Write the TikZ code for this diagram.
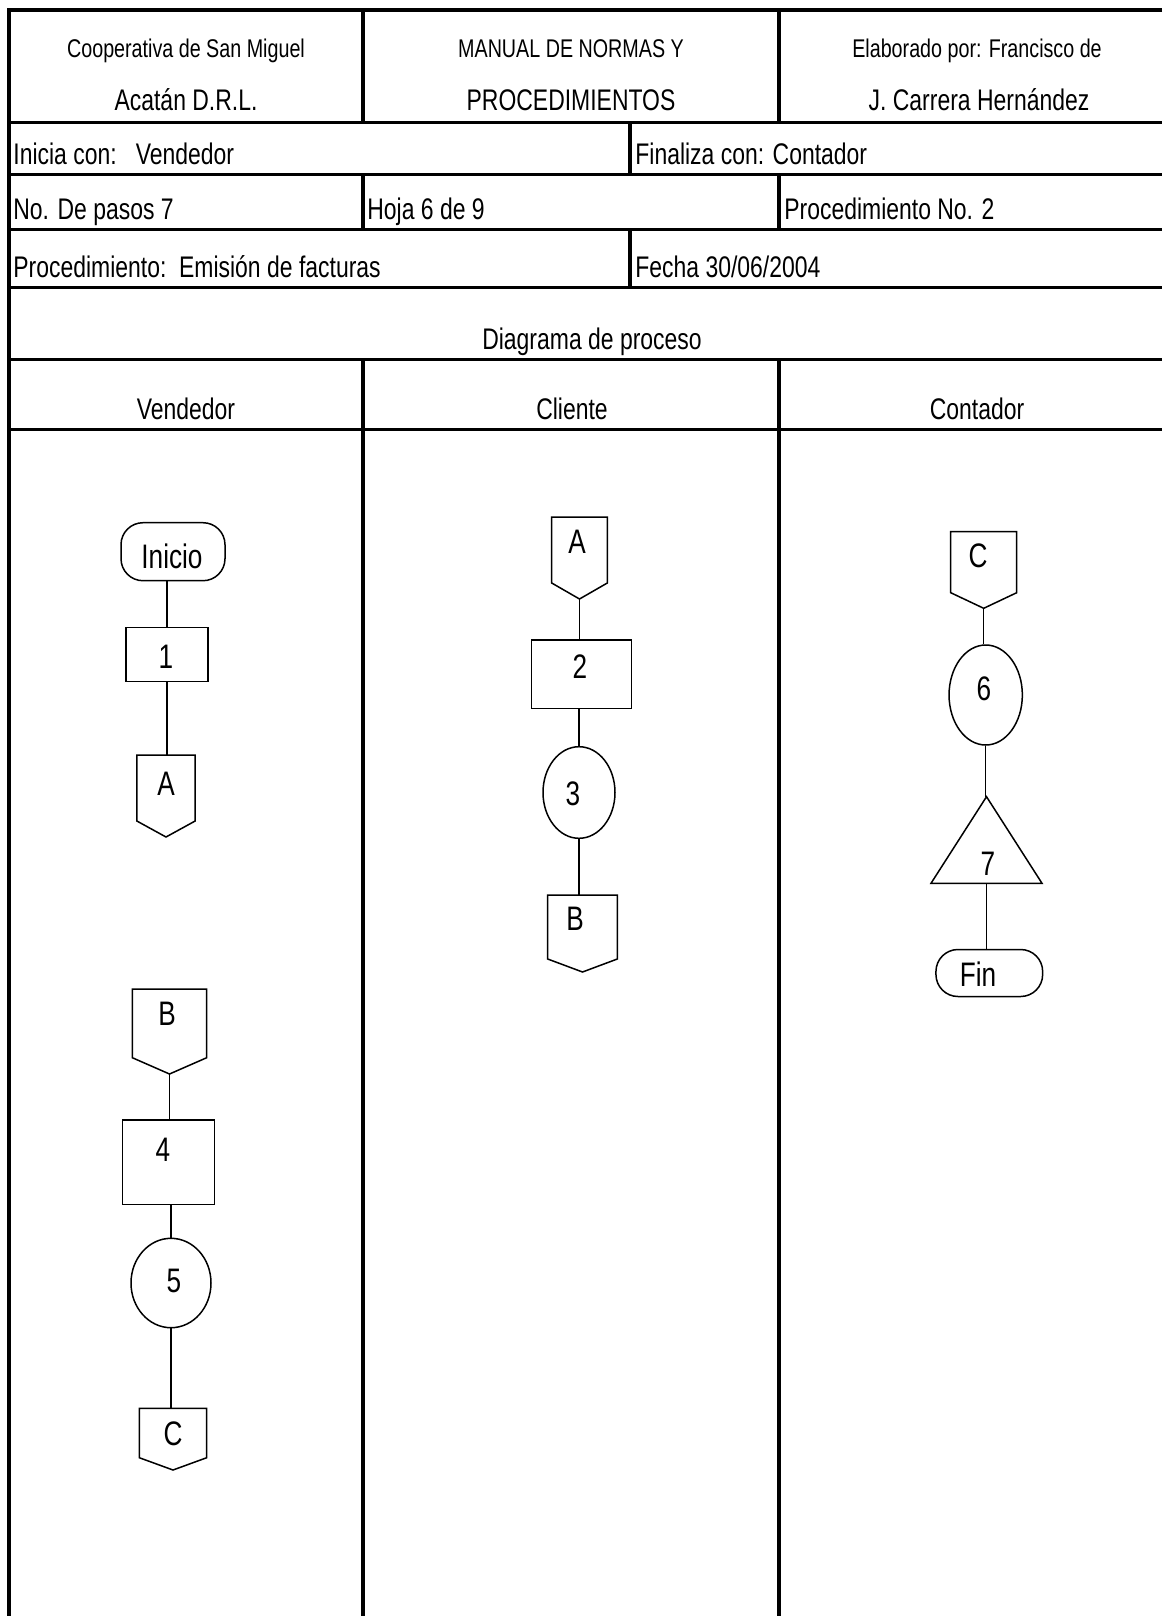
\documentclass[tikz,border=0pt]{standalone}
\usepackage{fontspec}
\setmainfont{Liberation Sans}[FakeStretch=0.77]
\usetikzlibrary{calc,shapes.geometric}

% one drawing unit = one pixel of the sheet
\def\pxu{0.5pt}

\tikzset{
  rule/.style={line width=1.8pt},
  flow/.style={line width=0.75pt},
  hsmall/.style={inner sep=0, anchor=base, font=\fontsize{12.8}{15}\selectfont},
  hbig/.style={inner sep=0, anchor=base, font=\fontsize{14.9}{18}\selectfont},
  cell/.style={inner sep=0, anchor=base west, font=\fontsize{14.9}{18}\selectfont},
  flbl/.style={inner sep=0, text height=12.2pt, text depth=0pt, font=\fontsize{17}{20}\selectfont},
  process/.style={draw, flow, rectangle, inner sep=0},
  term/.style={draw, flow, rectangle, rounded corners=11pt, inner sep=0},
  oval/.style={draw, flow, ellipse, inner sep=0},
  opbody/.style={rectangle, inner sep=0, outer sep=0},
}

% off-page connector: name, top centre, width, body height, tip depth
\newcommand{\offpage}[5]{%
  \node[opbody, minimum width=#3*\pxu, minimum height=#4*\pxu, anchor=north] (#1) at #2 {};
  \coordinate (#1-tip) at ($(#1.south)+(0,#5)$);
  \draw[flow] (#1.south west) -- (#1.north west) -- (#1.north east)
    -- (#1.south east) -- (#1-tip) -- cycle;
}

\begin{document}
\begin{tikzpicture}[x=0.5pt,y=-0.5pt]
\useasboundingbox (0,0) rectangle (1162,1616);

% ---------- form grid ----------
\draw[rule] (1162,10) -- (9,10) -- (9,1616);
\foreach \yy in {122.7,174.3,229.3,287.3,359.3,429.3}
  \draw[rule] (9,\yy) -- (1162,\yy);
\draw[rule] (363,10) -- (363,122.7);
\draw[rule] (779,10) -- (779,122.7);
\draw[rule] (630,122.7) -- (630,174.3);
\draw[rule] (363,174.3) -- (363,229.3);
\draw[rule] (779,174.3) -- (779,229.3);
\draw[rule] (630,229.3) -- (630,287.3);
\draw[rule] (363,359.3) -- (363,1616);
\draw[rule] (779,359.3) -- (779,1616);

% ---------- form texts ----------
\node[hsmall] (h1a) at (186,58) {Cooperativa de San Miguel};
\node[hbig]   (h1b) at (186,111) {Acatán D.R.L.};
\node[hsmall] (h2a) at (571,58) {MANUAL DE NORMAS Y};
\node[hbig]   (h2b) at (571,111) {PROCEDIMIENTOS};
\node[hsmall] (h3a) at (977,58) {Elaborado por: Francisco de};
\node[hbig]   (h3b) at (979,111) {J. Carrera Hernández};
\node[cell] (inicia)   at (13,164)  {Inicia con:\ \ \ Vendedor};
\node[cell] (finaliza) at (635,164) {Finaliza con: Contador};
\node[cell] (pasos)    at (13,219)  {No. De pasos 7};
\node[cell] (hoja)     at (367,219) {Hoja 6 de 9};
\node[cell] (procno)   at (784,219) {Procedimiento No. 2};
\node[cell] (proced)   at (13,277)  {Procedimiento:\ \ Emisión de facturas};
\node[cell] (fecha)    at (635,277) {Fecha 30/06/2004};
\node[hbig] (diag)  at (592,349) {Diagrama de proceso};
\node[hbig] (laneV) at (186,419) {Vendedor};
\node[hbig] (laneC) at (572,419) {Cliente};
\node[hbig] (laneK) at (977,419) {Contador};

% ---------- lane: Vendedor ----------
\node[term, minimum width=104*\pxu, minimum height=58*\pxu] (ini) at (173,551.7) {};
\node[flbl] (ini-t) at (172,556) {Inicio};
\node[process, minimum width=82*\pxu, minimum height=54*\pxu] (p1) at (167,654.7) {};
\node[flbl] (p1-t) at (166,656) {1};
\offpage{oa1}{(166,755)}{58.3}{66}{16}
\node[flbl] (oa1-t) at (166,783) {A};

\offpage{ob1}{(169.5,989)}{74.4}{68.7}{16.3}
\node[flbl] (ob1-t) at (167,1013) {B};
\node[process, minimum width=91.6*\pxu, minimum height=84.3*\pxu] (p4) at (168.5,1162.2) {};
\node[flbl] (p4-t) at (163,1149) {4};
\node[oval, minimum width=80*\pxu, minimum height=89.4*\pxu] (c5) at (171,1283) {};
\node[flbl] (c5-t) at (174,1280) {5};
\offpage{oc1}{(173,1408.3)}{67.4}{49.4}{12.3}
\node[flbl] (oc1-t) at (173,1433) {C};

\draw[flow] (p1.north |- ini.south) -- (p1.north);
\draw[flow] (p1.south) -- (p1.south |- oa1.north);
\draw[flow] (ob1-tip) -- (ob1-tip |- p4.north);
\draw[flow] (c5.north |- p4.south) -- (c5.north);
\draw[flow] (c5.south) -- (c5.south |- oc1.north);

% ---------- lane: Cliente ----------
\offpage{oa2}{(579.5,517)}{55.6}{66}{16}
\node[flbl] (oa2-t) at (577,541) {A};
\node[process, minimum width=100*\pxu, minimum height=68.3*\pxu] (p2) at (581.7,674.2) {};
\node[flbl] (p2-t) at (580,666) {2};
\node[oval, minimum width=72*\pxu, minimum height=91.6*\pxu] (c3) at (579,792.5) {};
\node[flbl] (c3-t) at (573,793) {3};
\offpage{ob2}{(582.5,895)}{69.6}{64}{13}
\node[flbl] (ob2-t) at (575,918) {B};

\draw[flow] (oa2-tip) -- (oa2-tip |- p2.north);
\draw[flow] (c3.north |- p2.south) -- (c3.north);
\draw[flow] (c3.south) -- (c3.south |- ob2.north);

% ---------- lane: Contador ----------
\offpage{oc2}{(983.7,531.7)}{66}{61}{15.6}
\node[flbl] (oc2-t) at (978,555) {C};
\node[oval, minimum width=73.3*\pxu, minimum height=100*\pxu] (c6) at (985.7,695) {};
\node[flbl] (c6-t) at (984,688) {6};
\node[opbody, minimum width=111*\pxu, minimum height=86.6*\pxu] (t7) at (986.5,840) {};
\draw[flow] (t7.north) -- (t7.south east) -- (t7.south west) -- cycle;
\node[flbl] (t7-t) at (988,863) {7};
\node[term, minimum width=106.7*\pxu, minimum height=47*\pxu] (fin) at (989.3,973) {};
\node[flbl] (fin-t) at (978,974) {Fin};

\draw[flow] (oc2-tip) -- (oc2-tip |- c6.north);
\draw[flow] (c6.south) -- (c6.south |- t7.north);
\draw[flow] (t7.south) -- (t7.south |- fin.north);
\end{tikzpicture}
\end{document}
